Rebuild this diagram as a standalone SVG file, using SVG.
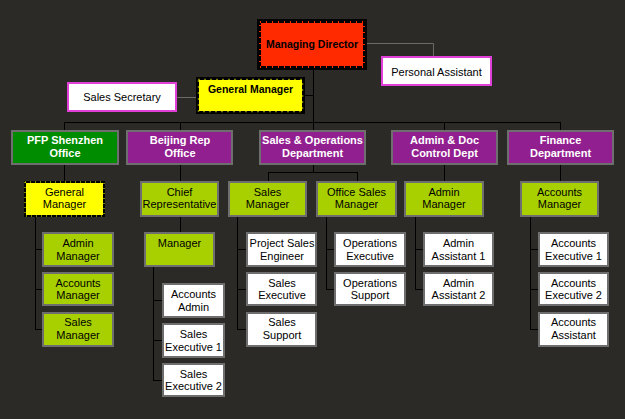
<svg xmlns="http://www.w3.org/2000/svg" width="625" height="419" viewBox="0 0 625 419">
<style>
.bg{fill:#2b2a26}
.ln{stroke:#000;stroke-width:1;fill:none}
.gl{stroke:#6a6a6a;stroke-width:1;fill:none}
.dept{fill:#921f8f;stroke:#6e6e6e;stroke-width:2}
.green{fill:#008c00;stroke:#6e6e6e;stroke-width:2}
.lime{fill:#a8d000;stroke:#6e6e6e;stroke-width:2}
.wh{fill:#fff;stroke:#6e6e6e;stroke-width:2}
.pink{fill:#fff;stroke:#e040d8;stroke-width:2}
.t{font-family:"Liberation Sans",Arial,sans-serif;font-size:11px;fill:#000;text-anchor:middle}
.tb{font-family:"Liberation Sans",Arial,sans-serif;font-size:11px;font-weight:bold;fill:#fff;text-anchor:middle}
.tk{font-family:"Liberation Sans",Arial,sans-serif;font-size:10.5px;font-weight:bold;fill:#000;text-anchor:middle}
</style>
<rect class="bg" x="0" y="0" width="625" height="419"/>
<g id="connectors">
<path class="gl" d="M367 43.5H433.5V56"/>
<path class="gl" d="M177 97.5H196"/>
<path class="ln" d="M313.5 70V172"/>
<path class="ln" d="M305 95.5H313.5"/>
<path class="ln" d="M64.5 122.5H560.5"/>
<path class="ln" d="M64.5 122V131M180.5 122V131M444.5 122V131M560.5 122V131"/>
<path class="ln" d="M64.5 164V181M180.5 164V181M444.5 164V181M560.5 164V181"/>
<path class="ln" d="M268.5 172.5H357.5M268.5 172V181M357.5 172V181"/>
<path class="ln" d="M35.5 217V329.5M35 249.5H42M35 289.5H42M35 329.5H42"/>
<path class="ln" d="M180.5 217V232"/>
<path class="ln" d="M153.5 267V380.5M153 300.5H162M153 340.5H162M153 380.5H162"/>
<path class="ln" d="M237.5 217V329.5M237 249.5H246M237 289.5H246M237 329.5H246"/>
<path class="ln" d="M326.5 217V289.5M326 249.5H334M326 289.5H334"/>
<path class="ln" d="M415.5 217V289.5M415 249.5H423M415 289.5H423"/>
<path class="ln" d="M530.5 217V329.5M530 249.5H538M530 289.5H538M530 329.5H538"/>
</g>
<g id="managing-director">
<rect x="259" y="21" width="106" height="47" fill="#ff2a00" stroke="#000" stroke-width="4"/>
<rect x="260" y="22" width="104" height="45" fill="none" stroke="#ff2a00" stroke-width="2" stroke-dasharray="1 5"/>
<text class="tk" x="312" y="48">Managing Director</text>
</g>
<g id="personal-assistant">
<rect class="pink" x="382" y="57" width="109" height="28"/>
<text class="t" x="436.5" y="75.5">Personal Assistant</text>
</g>
<g id="general-manager">
<rect x="197.5" y="78.5" width="106" height="34" fill="#ffff00" stroke="#000" stroke-width="3"/>
<rect x="198.5" y="79.5" width="104" height="32" fill="none" stroke="#ffff00" stroke-width="1.5" stroke-dasharray="1 5"/>
<text class="tk" x="250.5" y="93">General Manager</text>
</g>
<g id="sales-secretary">
<rect class="pink" x="68" y="83" width="108" height="28"/>
<text class="t" x="122" y="100.5">Sales Secretary</text>
</g>
<g id="pfp-shenzhen">
<rect class="green" x="12" y="131" width="106" height="33"/>
<text class="tb" x="65" y="144">PFP Shenzhen</text>
<text class="tb" x="65" y="157">Office</text>
</g>
<g id="beijing-rep">
<rect class="dept" x="127" y="131" width="105" height="33"/>
<text class="tb" x="180" y="144">Beijing Rep</text>
<text class="tb" x="180" y="157">Office</text>
</g>
<g id="sales-ops">
<rect class="dept" x="260" y="131" width="105" height="33"/>
<text class="tb" x="312.5" y="144">Sales &amp; Operations</text>
<text class="tb" x="312.5" y="157">Department</text>
</g>
<g id="admin-doc">
<rect class="dept" x="392" y="131" width="105" height="33"/>
<text class="tb" x="444.5" y="144">Admin &amp; Doc</text>
<text class="tb" x="444.5" y="157">Control Dept</text>
</g>
<g id="finance">
<rect class="dept" x="508" y="131" width="105" height="33"/>
<text class="tb" x="560.5" y="144">Finance</text>
<text class="tb" x="560.5" y="157">Department</text>
</g>
<g id="pfp-gm">
<rect x="25" y="182" width="79" height="34" fill="#ffff00" stroke="#000" stroke-width="2"/>
<rect x="25" y="182" width="79" height="34" fill="none" stroke="#ffff00" stroke-width="1" stroke-dasharray="1 4"/>
<text class="t" x="64.5" y="196">General</text>
<text class="t" x="64.5" y="208">Manager</text>
</g>
<g id="chief-rep">
<rect class="lime" x="141" y="182" width="77" height="34"/>
<text class="t" x="179.5" y="196">Chief</text>
<text class="t" x="179.5" y="208">Representative</text>
</g>
<g id="sales-manager">
<rect class="lime" x="229" y="182" width="77" height="34"/>
<text class="t" x="267.5" y="196">Sales</text>
<text class="t" x="267.5" y="208">Manager</text>
</g>
<g id="office-sales-manager">
<rect class="lime" x="317" y="182" width="79" height="34"/>
<text class="t" x="356.5" y="196">Office Sales</text>
<text class="t" x="356.5" y="208">Manager</text>
</g>
<g id="admin-manager">
<rect class="lime" x="405" y="182" width="78" height="34"/>
<text class="t" x="444" y="196">Admin</text>
<text class="t" x="444" y="208">Manager</text>
</g>
<g id="accounts-manager">
<rect class="lime" x="521" y="182" width="77" height="34"/>
<text class="t" x="559.5" y="196">Accounts</text>
<text class="t" x="559.5" y="208">Manager</text>
</g>
<g id="pfp-admin-manager">
<rect class="lime" x="43" y="233" width="70" height="33"/>
<text class="t" x="78" y="247">Admin</text>
<text class="t" x="78" y="260">Manager</text>
</g>
<g id="pfp-accounts-manager">
<rect class="lime" x="43" y="273" width="70" height="32"/>
<text class="t" x="78" y="287">Accounts</text>
<text class="t" x="78" y="299">Manager</text>
</g>
<g id="pfp-sales-manager">
<rect class="lime" x="43" y="313" width="70" height="33"/>
<text class="t" x="78" y="326">Sales</text>
<text class="t" x="78" y="339">Manager</text>
</g>
<g id="bj-manager">
<rect class="lime" x="145" y="233" width="69" height="33"/>
<text class="t" x="179.5" y="247">Manager</text>
</g>
<g id="accounts-admin">
<rect class="wh" x="163" y="284" width="61" height="33"/>
<text class="t" x="193.5" y="298">Accounts</text>
<text class="t" x="193.5" y="311">Admin</text>
</g>
<g id="sales-exec-1">
<rect class="wh" x="163" y="324" width="61" height="33"/>
<text class="t" x="193.5" y="338">Sales</text>
<text class="t" x="193.5" y="351">Executive 1</text>
</g>
<g id="sales-exec-2">
<rect class="wh" x="163" y="364" width="61" height="32"/>
<text class="t" x="193.5" y="378">Sales</text>
<text class="t" x="193.5" y="390">Executive 2</text>
</g>
<g id="project-sales-engineer">
<rect class="wh" x="247" y="233" width="69" height="33"/>
<text class="t" x="282" y="247">Project Sales</text>
<text class="t" x="282" y="260">Engineer</text>
</g>
<g id="sales-executive">
<rect class="wh" x="247" y="273" width="69" height="32"/>
<text class="t" x="282" y="287">Sales</text>
<text class="t" x="282" y="299">Executive</text>
</g>
<g id="sales-support">
<rect class="wh" x="247" y="313" width="69" height="33"/>
<text class="t" x="282" y="326">Sales</text>
<text class="t" x="282" y="339">Support</text>
</g>
<g id="operations-executive">
<rect class="wh" x="335" y="233" width="70" height="33"/>
<text class="t" x="370" y="247">Operations</text>
<text class="t" x="370" y="260">Executive</text>
</g>
<g id="operations-support">
<rect class="wh" x="335" y="273" width="70" height="32"/>
<text class="t" x="370" y="287">Operations</text>
<text class="t" x="370" y="299">Support</text>
</g>
<g id="admin-assistant-1">
<rect class="wh" x="424" y="233" width="69" height="33"/>
<text class="t" x="458.5" y="247">Admin</text>
<text class="t" x="458.5" y="260">Assistant 1</text>
</g>
<g id="admin-assistant-2">
<rect class="wh" x="424" y="273" width="69" height="32"/>
<text class="t" x="458.5" y="287">Admin</text>
<text class="t" x="458.5" y="299">Assistant 2</text>
</g>
<g id="accounts-exec-1">
<rect class="wh" x="539" y="233" width="69" height="33"/>
<text class="t" x="573.5" y="247">Accounts</text>
<text class="t" x="573.5" y="260">Executive 1</text>
</g>
<g id="accounts-exec-2">
<rect class="wh" x="539" y="273" width="69" height="32"/>
<text class="t" x="573.5" y="287">Accounts</text>
<text class="t" x="573.5" y="299">Executive 2</text>
</g>
<g id="accounts-assistant">
<rect class="wh" x="539" y="313" width="69" height="33"/>
<text class="t" x="573.5" y="326">Accounts</text>
<text class="t" x="573.5" y="339">Assistant</text>
</g>
</svg>
